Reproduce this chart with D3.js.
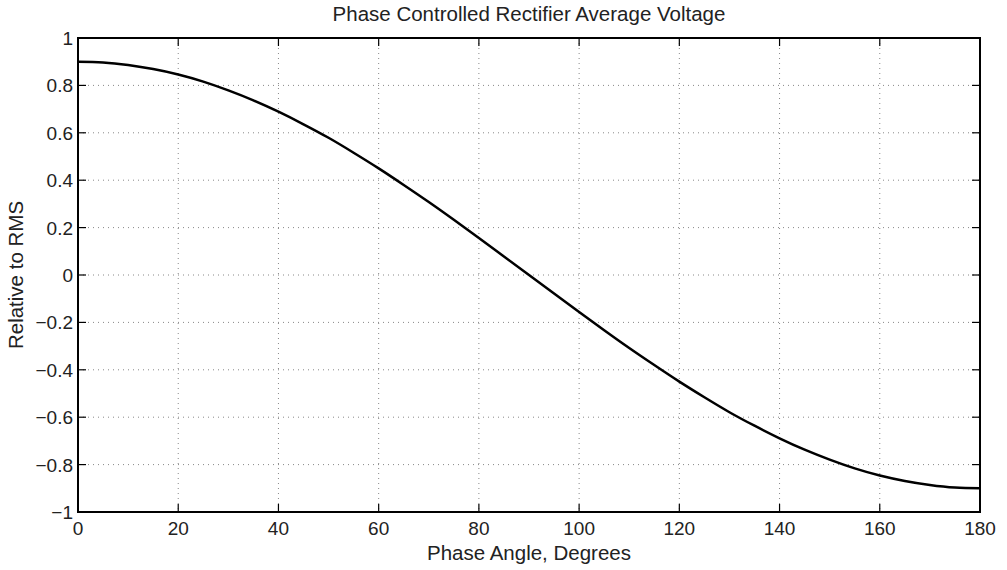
<!DOCTYPE html>
<html><head><meta charset="utf-8">
<script src="https://cdn.jsdelivr.net/npm/d3@7"></script>
<style>body{margin:0;background:#fff;} text{font-family:"Liberation Sans",Arial,sans-serif;fill:#222;}</style>
</head><body>
<svg id="c" width="1007" height="570"></svg>
<script>
const angles = [0,5,10,15,20,25,30,35,40,45,50,55,60,65,70,75,80,85,90,95,100,105,110,115,120,125,130,135,140,145,150,155,160,165,170,175,180];
const voltages = [0.900,0.897,0.886,0.869,0.846,0.816,0.779,0.737,0.689,0.636,0.579,0.516,0.450,0.380,0.308,0.233,0.156,0.078,0.000,-0.078,-0.156,-0.233,-0.308,-0.380,-0.450,-0.516,-0.579,-0.636,-0.689,-0.737,-0.779,-0.816,-0.846,-0.869,-0.886,-0.897,-0.900];
const xTicks = [0,20,40,60,80,100,120,140,160,180];
const yTicks = [-1,-0.8,-0.6,-0.4,-0.2,0,0.2,0.4,0.6,0.8,1];
const title = "Phase Controlled Rectifier Average Voltage";
const xLabel = "Phase Angle, Degrees";
const yLabel = "Relative to RMS";

const L=78,T=38,R=980,B=512;
const svg=d3.select("#c");
const x=d3.scaleLinear().domain([0,180]).range([L,R]);
const y=d3.scaleLinear().domain([-1,1]).range([B,T]);
const fmt=v=>{let s=d3.format("")(+v.toFixed(1));return s.replace("-","\u2013");};

// grid
const g=svg.append("g");
xTicks.slice(1,-1).forEach(t=>g.append("line").attr("x1",x(t)).attr("x2",x(t)).attr("y1",T).attr("y2",B)
  .attr("stroke","#888").attr("stroke-width",1).attr("stroke-dasharray","1,4"));
yTicks.slice(1,-1).forEach(t=>g.append("line").attr("x1",L).attr("x2",R).attr("y1",y(t)).attr("y2",y(t))
  .attr("stroke","#888").attr("stroke-width",1).attr("stroke-dasharray","1,4"));

// ticks inward on all sides
const tl=8;
xTicks.forEach(t=>{
  g.append("line").attr("x1",x(t)).attr("x2",x(t)).attr("y1",B).attr("y2",B-tl).attr("stroke","#000").attr("stroke-width",1.2);
  g.append("line").attr("x1",x(t)).attr("x2",x(t)).attr("y1",T).attr("y2",T+tl).attr("stroke","#000").attr("stroke-width",1.2);
  svg.append("text").attr("x",x(t)).attr("y",B+23).attr("text-anchor","middle").attr("font-size",19).text(fmt(t));
});
yTicks.forEach(t=>{
  g.append("line").attr("x1",L).attr("x2",L+tl).attr("y1",y(t)).attr("y2",y(t)).attr("stroke","#000").attr("stroke-width",1.2);
  g.append("line").attr("x1",R).attr("x2",R-tl).attr("y1",y(t)).attr("y2",y(t)).attr("stroke","#000").attr("stroke-width",1.2);
  svg.append("text").attr("x",L-5).attr("y",y(t)+7).attr("text-anchor","end").attr("font-size",19).text(fmt(t));
});

// frame
svg.append("rect").attr("x",L).attr("y",T).attr("width",R-L).attr("height",B-T).attr("fill","none").attr("stroke","#000").attr("stroke-width",2);

// line
const line=d3.line().x((d,i)=>x(angles[i])).y(d=>y(d)).curve(d3.curveNatural);
svg.append("path").datum(voltages).attr("d",line).attr("fill","none").attr("stroke","#000").attr("stroke-width",2.5);

// labels
svg.append("text").attr("x",(L+R)/2).attr("y",21).attr("text-anchor","middle").attr("font-size",20.5).text(title);
svg.append("text").attr("x",(L+R)/2).attr("y",560).attr("text-anchor","middle").attr("font-size",20.5).text(xLabel);
svg.append("text").attr("transform",`translate(23,${(T+B)/2}) rotate(-90)`).attr("text-anchor","middle").attr("font-size",20.5).text(yLabel);
</script>
</body></html>
